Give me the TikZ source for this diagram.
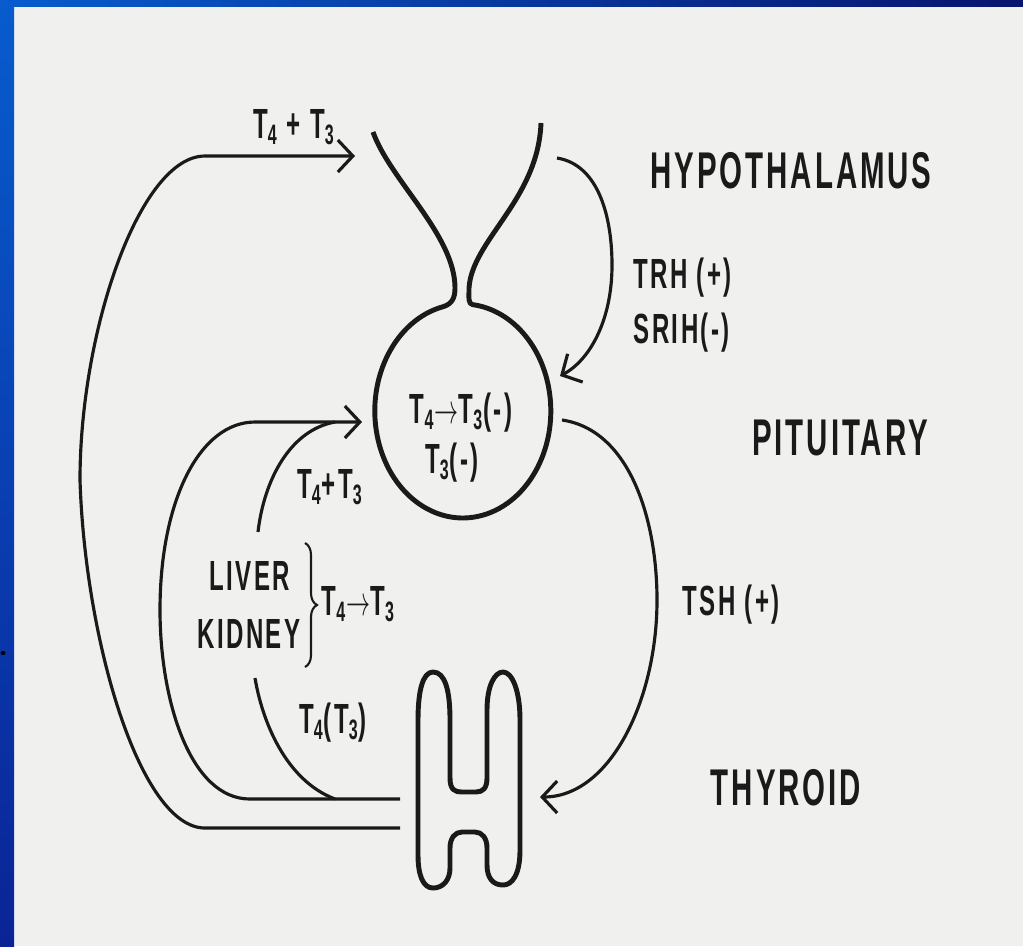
\documentclass[tikz,border=0pt]{standalone}
\usepackage{fontspec}
\setsansfont{Liberation Sans}[LetterSpace=10]
\usetikzlibrary{arrows.meta,decorations.pathreplacing}
\definecolor{paper}{RGB}{240,240,239}
\definecolor{ink}{RGB}{26,26,26}
\definecolor{slideA}{RGB}{8,92,206}
\definecolor{slideB}{RGB}{24,142,240}
\definecolor{slideC}{RGB}{10,36,150}
\definecolor{slideD}{RGB}{8,20,110}
\newcommand{\cond}[1]{\scalebox{0.57}[1]{#1}}

\begin{document}
\begin{tikzpicture}[
  organ/.style={font={\fontsize{14.7}{17}\selectfont\sffamily\bfseries},text=ink,inner sep=0pt,anchor=base},
  hormone/.style={font={\fontsize{12}{14}\selectfont\sffamily\bfseries},text=ink,inner sep=0pt,anchor=base},
  gland/.style={ink,line width=1.4pt,line join=round},
  conn/.style={ink,line width=0.9pt},
  headarrow/.style={-{Straight Barb[length=1.5mm,width=3.2mm]}}]
  \useasboundingbox (0,0) rectangle (10.23,-9.46);

  % paper and slide frame
  \fill[paper] (0,0) rectangle (10.23,-9.46);
  \shade[top color=slideA,middle color=slideB,bottom color=slideC] (0,0) rectangle (0.14,-9.46);
  \shade[left color=slideA,right color=slideD] (0,0) rectangle (10.23,-0.06);
  \fill[black] (0.03,-6.53) ellipse (0.025 and 0.02);

  % hypothalamus funnel and pituitary
  \draw[gland] (3.73,-1.32) .. controls (3.90,-1.80) and (4.55,-2.35) .. (4.55,-2.88)
    .. controls (4.55,-2.98) and (4.52,-3.04) .. (4.43,-3.067)
    arc[start angle=103,end angle=443.5,x radius=0.88,y radius=1.07]
    .. controls (4.68,-3.04) and (4.69,-2.98) .. (4.69,-2.88)
    .. controls (4.72,-2.40) and (5.38,-2.00) .. (5.41,-1.23);

  % thyroid
  \draw[gland] (4.33,-6.72) .. controls (4.45,-6.72) and (4.50,-6.90) .. (4.50,-7.20)
    -- (4.50,-7.78) .. controls (4.50,-7.90) and (4.55,-7.92) .. (4.62,-7.92)
    -- (4.76,-7.92) .. controls (4.83,-7.92) and (4.87,-7.88) .. (4.87,-7.78)
    -- (4.87,-7.10) .. controls (4.87,-6.85) and (4.95,-6.72) .. (5.03,-6.72)
    .. controls (5.12,-6.72) and (5.20,-6.90) .. (5.20,-7.20)
    -- (5.20,-8.50) .. controls (5.20,-8.75) and (5.12,-8.85) .. (5.03,-8.85)
    .. controls (4.93,-8.85) and (4.87,-8.78) .. (4.87,-8.65)
    -- (4.87,-8.48) .. controls (4.87,-8.38) and (4.82,-8.32) .. (4.75,-8.32)
    -- (4.62,-8.32) .. controls (4.55,-8.32) and (4.50,-8.38) .. (4.50,-8.48)
    -- (4.50,-8.68) .. controls (4.50,-8.80) and (4.43,-8.88) .. (4.33,-8.88)
    .. controls (4.23,-8.88) and (4.18,-8.75) .. (4.18,-8.55)
    -- (4.18,-7.20) .. controls (4.18,-6.90) and (4.23,-6.72) .. (4.33,-6.72) -- cycle;

  % connector ends
  \coordinate (thyOut) at (4.00,-8.28);
  \coordinate (thyMid) at (4.00,-7.99);
  \coordinate (thyIn) at (5.40,-7.97);
  \coordinate (hypIn) at (3.55,-1.56);
  \coordinate (hypOut) at (5.57,-1.58);
  \coordinate (pitIn) at (3.62,-4.22);
  \coordinate (pitTop) at (5.60,-3.76);
  \coordinate (pitOut) at (5.62,-4.20);
  \coordinate (liverUp) at (2.58,-5.32);
  \coordinate (liverDn) at (2.55,-6.78);
  \coordinate (joinUp) at (3.35,-4.22);
  \coordinate (joinLow) at (3.35,-7.99);

  % organ labels
  \foreach \nm/\x/\y/\txt in {hypo/7.91/-1.88/HYPOTHALAMUS,
      pit/8.40/-4.55/PITUITARY, thy/7.86/-8.05/THYROID}
    \node[organ] (\nm) at (\x,\y) {\cond{\txt}};

  % hormone labels
  \node[hormone,anchor=base west] (trh) at (6.33,-2.88) {\cond{TRH (+)}};
  \node[hormone,anchor=base west] (srih) at (6.33,-3.43) {\cond{SRIH(-)}};
  \node[hormone,anchor=base west] (tsh) at (6.82,-6.15) {\cond{TSH (+)}};
  \node[hormone] (conv) at (4.61,-4.23) {\cond{T\textsubscript{4}$\rightarrow$T\textsubscript{3}(-)}};
  \node[hormone] (tthree) at (4.52,-4.73) {\cond{T\textsubscript{3}(-)}};
  \node[hormone] (tttop) at (2.94,-1.38) {\cond{T\textsubscript{4} + T\textsubscript{3}}};
  \node[hormone] (ttmid) at (3.30,-4.98) {\cond{T\textsubscript{4}+T\textsubscript{3}}};
  \node[hormone] (liver) at (2.50,-5.90) {\cond{LIVER}};
  \node[hormone] (kidney) at (2.49,-6.48) {\cond{KIDNEY}};
  \node[hormone,anchor=base west] (peri) at (3.21,-6.15) {\cond{T\textsubscript{4}$\rightarrow$T\textsubscript{3}}};
  \node[hormone] (secr) at (3.33,-7.33) {\cond{T\textsubscript{4}(T\textsubscript{3})}};
  \draw[ink,line width=0.6pt,decorate,decoration={brace,amplitude=1.2mm}]
    (3.05,-5.43) -- (3.05,-6.67);

  % feedback from the thyroid
  \draw[conn,headarrow] (thyOut) -- (2.05,-8.28)
    .. controls (1.40,-8.28) and (0.85,-6.40) .. (0.80,-4.80)
    .. controls (0.80,-3.30) and (1.40,-1.56) .. (2.05,-1.56) -- (hypIn);
  \draw[conn,headarrow] (thyMid) -- (2.50,-7.99)
    .. controls (1.90,-7.99) and (1.60,-7.00) .. (1.60,-6.10)
    .. controls (1.60,-5.00) and (2.00,-4.22) .. (2.55,-4.22) -- (pitIn);
  \draw[conn] (liverDn) .. controls (2.62,-7.20) and (2.85,-7.80) .. (joinLow);
  \draw[conn] (liverUp) .. controls (2.64,-4.80) and (2.90,-4.30) .. (joinUp);

  % TRH and TSH
  \draw[conn,headarrow] (hypOut) .. controls (6.00,-1.65) and (6.12,-2.20) .. (6.12,-2.65)
    .. controls (6.12,-3.20) and (5.90,-3.60) .. (pitTop);
  \draw[conn,headarrow] (pitOut) .. controls (6.30,-4.30) and (6.57,-5.20) .. (6.57,-6.00)
    .. controls (6.57,-7.00) and (6.10,-7.97) .. (thyIn);
\end{tikzpicture}
\end{document}
